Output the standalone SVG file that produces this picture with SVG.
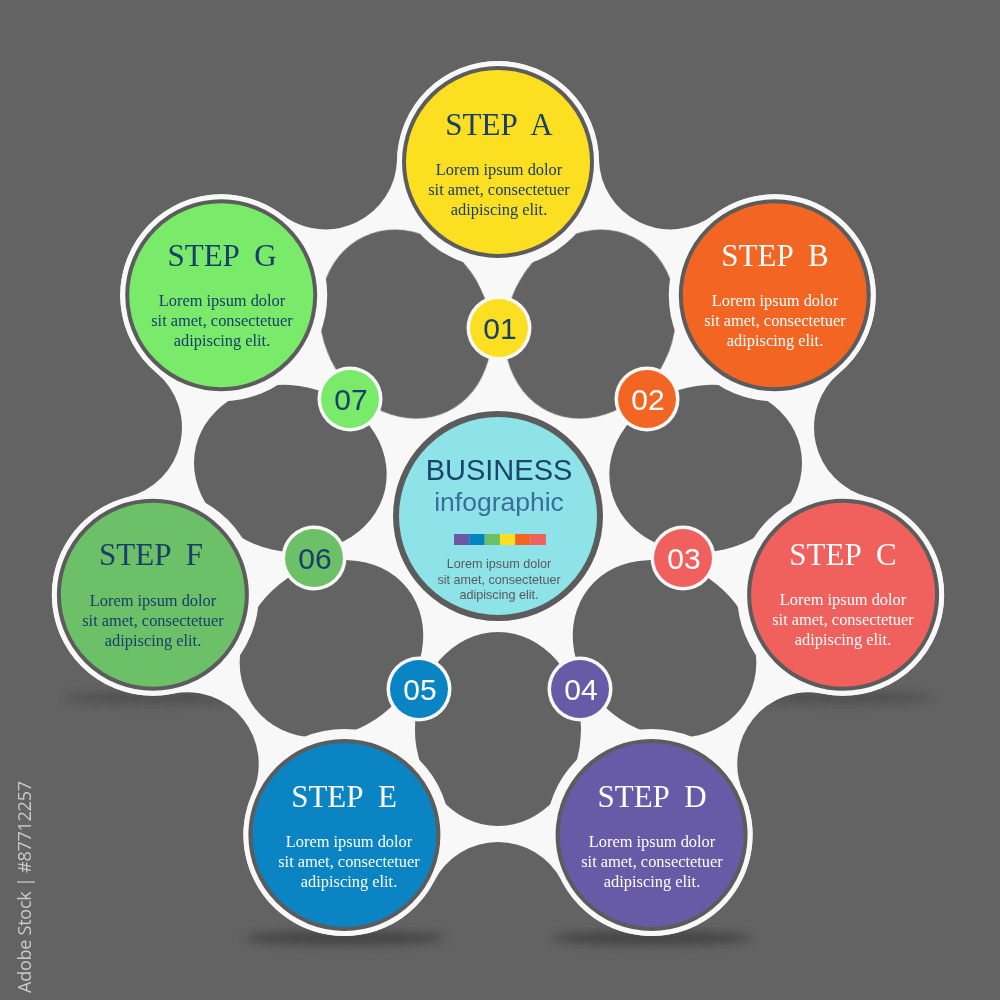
<svg xmlns="http://www.w3.org/2000/svg" width="1000" height="1000" viewBox="0 0 1000 1000">
  <defs>
    <style>
      .bg{fill:#636363}
      .hole{fill:#636363}
      .white{fill:#f8f8f8}
      .ring{stroke:#5c5c5c;stroke-width:4}
      .title{font-family:"Liberation Serif","Times New Roman",serif;font-size:31px;text-anchor:middle}
      .body{font-family:"Liberation Serif","Times New Roman",serif;font-size:16.4px;text-anchor:middle}
      .num{font-family:"Liberation Sans",Arial,sans-serif;font-size:30px;text-anchor:middle}
      .navy{fill:#183e6a}
      .wt{fill:#ffffff}
    </style>
    <filter id="blur" x="-50%" y="-200%" width="200%" height="500%">
      <feGaussianBlur stdDeviation="5"/>
    </filter>
    <mask id="holeMask" maskUnits="userSpaceOnUse" x="0" y="0" width="1000" height="1000">
      <rect x="0" y="0" width="1000" height="1000" fill="#fff"/>
      <circle cx="498" cy="516" r="111" fill="#000"/>
      <circle cx="498" cy="162" r="106" fill="#000"/>
      <circle cx="774.77" cy="295.3" r="106" fill="#000"/>
      <circle cx="843.12" cy="594.77" r="106" fill="#000"/>
      <circle cx="651.59" cy="834.94" r="106" fill="#000"/>
      <circle cx="344.41" cy="834.94" r="106" fill="#000"/>
      <circle cx="152.88" cy="594.77" r="106" fill="#000"/>
      <circle cx="221.23" cy="295.3" r="106" fill="#000"/>
    </mask>
  </defs>

  <rect class="bg" x="0" y="0" width="1000" height="1000"/>

  <g id="shadows" filter="url(#blur)" fill="#3c3c3c" opacity="0.8">
    <ellipse cx="345" cy="938" rx="100" ry="7"/>
    <ellipse cx="652" cy="938" rx="100" ry="7"/>
    <ellipse cx="153" cy="698" rx="90" ry="6" opacity="0.6"/>
    <ellipse cx="843" cy="698" rx="90" ry="6" opacity="0.6"/>
  </g>

  <g id="connectors">
    <path class="white" d="M397.06,159.53 A101,101 0 0 1 498,61 A101,101 0 0 1 598.94,159.53
      A71.6,71.6 0 0 0 713.77,214.82 A101,101 0 0 1 853.73,232.31 A101,101 0 0 1 839.63,372.67
      A71.6,71.6 0 0 0 867.99,496.91 A101,101 0 0 1 941.59,617.25 A101,101 0 0 1 823.09,693.74
      A71.6,71.6 0 0 0 743.61,793.38 A101,101 0 0 1 695.42,925.94 A101,101 0 0 1 561.72,880.96
      A71.6,71.6 0 0 0 434.28,880.96 A101,101 0 0 1 300.58,925.94 A101,101 0 0 1 252.39,793.38
      A71.6,71.6 0 0 0 172.91,693.74 A101,101 0 0 1 54.41,617.25 A101,101 0 0 1 128.01,496.91
      A71.6,71.6 0 0 0 156.37,372.67 A101,101 0 0 1 142.27,232.31 A101,101 0 0 1 282.23,214.82
      A71.6,71.6 0 0 0 397.06,159.53 Z"/>
    <g mask="url(#holeMask)">
      <ellipse class="hole" cx="0" cy="0" rx="97" ry="83" transform="translate(590.42,324.09) rotate(-64.286)"/>
      <ellipse class="hole" cx="0" cy="0" rx="97" ry="83" transform="translate(705.66,468.6) rotate(-12.857)"/>
      <ellipse class="hole" cx="0" cy="0" rx="97" ry="83" transform="translate(664.53,648.8) rotate(38.571)"/>
      <ellipse class="hole" cx="0" cy="0" rx="97" ry="83" transform="translate(498,729) rotate(90)"/>
      <ellipse class="hole" cx="0" cy="0" rx="97" ry="83" transform="translate(331.47,648.8) rotate(141.43)"/>
      <ellipse class="hole" cx="0" cy="0" rx="97" ry="83" transform="translate(290.34,468.6) rotate(192.86)"/>
      <ellipse class="hole" cx="0" cy="0" rx="97" ry="83" transform="translate(405.58,324.09) rotate(244.29)"/>
    </g>
  </g>

  <g id="center">
    <circle cx="498" cy="516" r="102" fill="#8de3e8" stroke="#5c5c5c" stroke-width="6"/>
    <text x="499" y="480" font-family="Liberation Sans, Arial, sans-serif" font-size="29" fill="#19456c" text-anchor="middle">BUSINESS</text>
    <text x="499" y="511" font-family="Liberation Sans, Arial, sans-serif" font-size="26.5" fill="#3b6c9b" text-anchor="middle">infographic</text>
    <rect x="454" y="534" width="15.4" height="11" fill="#6a5aa5"/>
    <rect x="469.3" y="534" width="15.4" height="11" fill="#0085c3"/>
    <rect x="484.6" y="534" width="15.4" height="11" fill="#6abf69"/>
    <rect x="499.9" y="534" width="15.4" height="11" fill="#fddf22"/>
    <rect x="515.2" y="534" width="15.4" height="11" fill="#f26522"/>
    <rect x="530.5" y="534" width="15.4" height="11" fill="#f0605d"/>
    <g font-family="Liberation Sans, Arial, sans-serif" font-size="12.6" fill="#5a5a5a" text-anchor="middle">
      <text x="499" y="568">Lorem ipsum dolor</text>
      <text x="499" y="583.5">sit amet, consectetuer</text>
      <text x="499" y="599">adipiscing elit.</text>
    </g>
  </g>

  <g id="step-a">
    <circle class="white" cx="498" cy="162" r="101"/>
    <circle class="ring" cx="498" cy="162" r="94" fill="#fddf22"/>
    <text class="title navy" x="499" y="135" xml:space="preserve">STEP  A</text>
    <text class="body navy" x="499" y="175">Lorem ipsum dolor</text>
    <text class="body navy" x="499" y="195">sit amet, consectetuer</text>
    <text class="body navy" x="499" y="215">adipiscing elit.</text>
  </g>
  <g id="step-b">
    <circle class="white" cx="774.77" cy="295.3" r="101"/>
    <circle class="ring" cx="774.77" cy="295.3" r="94" fill="#f26522"/>
    <text class="title wt" x="775" y="266" xml:space="preserve">STEP  B</text>
    <text class="body wt" x="775" y="306">Lorem ipsum dolor</text>
    <text class="body wt" x="775" y="326">sit amet, consectetuer</text>
    <text class="body wt" x="775" y="346">adipiscing elit.</text>
  </g>
  <g id="step-c">
    <circle class="white" cx="843.12" cy="594.77" r="101"/>
    <circle class="ring" cx="843.12" cy="594.77" r="94" fill="#f0605d"/>
    <text class="title wt" x="843" y="565" xml:space="preserve">STEP  C</text>
    <text class="body wt" x="843" y="605">Lorem ipsum dolor</text>
    <text class="body wt" x="843" y="625">sit amet, consectetuer</text>
    <text class="body wt" x="843" y="645">adipiscing elit.</text>
  </g>
  <g id="step-d">
    <circle class="white" cx="651.59" cy="834.94" r="101"/>
    <circle class="ring" cx="651.59" cy="834.94" r="94" fill="#675ba7"/>
    <text class="title wt" x="652" y="807" xml:space="preserve">STEP  D</text>
    <text class="body wt" x="652" y="847">Lorem ipsum dolor</text>
    <text class="body wt" x="652" y="867">sit amet, consectetuer</text>
    <text class="body wt" x="652" y="887">adipiscing elit.</text>
  </g>
  <g id="step-e">
    <circle class="white" cx="344.41" cy="834.94" r="101"/>
    <circle class="ring" cx="344.41" cy="834.94" r="94" fill="#0a84c2"/>
    <text class="title wt" x="344" y="807" xml:space="preserve">STEP  E</text>
    <text class="body wt" x="349" y="847">Lorem ipsum dolor</text>
    <text class="body wt" x="349" y="867">sit amet, consectetuer</text>
    <text class="body wt" x="349" y="887">adipiscing elit.</text>
  </g>
  <g id="step-f">
    <circle class="white" cx="152.88" cy="594.77" r="101"/>
    <circle class="ring" cx="152.88" cy="594.77" r="94" fill="#6cc068"/>
    <text class="title navy" x="151" y="565" xml:space="preserve">STEP  F</text>
    <text class="body navy" x="153" y="606">Lorem ipsum dolor</text>
    <text class="body navy" x="153" y="626">sit amet, consectetuer</text>
    <text class="body navy" x="153" y="646">adipiscing elit.</text>
  </g>
  <g id="step-g">
    <circle class="white" cx="221.23" cy="295.3" r="101"/>
    <circle class="ring" cx="221.23" cy="295.3" r="94" fill="#7aea6a"/>
    <text class="title navy" x="222" y="266" xml:space="preserve">STEP  G</text>
    <text class="body navy" x="222" y="306">Lorem ipsum dolor</text>
    <text class="body navy" x="222" y="326">sit amet, consectetuer</text>
    <text class="body navy" x="222" y="346">adipiscing elit.</text>
  </g>

  <g id="num-01">
    <circle class="white" cx="499" cy="328" r="32.5"/>
    <circle cx="499" cy="328" r="29" fill="#fddf22"/>
    <text class="num navy" x="500" y="339">01</text>
  </g>
  <g id="num-02">
    <circle class="white" cx="647" cy="399" r="32.5"/>
    <circle cx="647" cy="399" r="29" fill="#f26522"/>
    <text class="num wt" x="648" y="410">02</text>
  </g>
  <g id="num-03">
    <circle class="white" cx="683" cy="558" r="32.5"/>
    <circle cx="683" cy="558" r="29" fill="#f0605d"/>
    <text class="num wt" x="684" y="569">03</text>
  </g>
  <g id="num-04">
    <circle class="white" cx="580" cy="689" r="32.5"/>
    <circle cx="580" cy="689" r="29" fill="#675ba7"/>
    <text class="num wt" x="581" y="700">04</text>
  </g>
  <g id="num-05">
    <circle class="white" cx="419" cy="689" r="32.5"/>
    <circle cx="419" cy="689" r="29" fill="#0a84c2"/>
    <text class="num wt" x="420" y="700">05</text>
  </g>
  <g id="num-06">
    <circle class="white" cx="314" cy="558" r="32.5"/>
    <circle cx="314" cy="558" r="29" fill="#6cc068"/>
    <text class="num navy" x="315" y="569">06</text>
  </g>
  <g id="num-07">
    <circle class="white" cx="350" cy="399" r="32.5"/>
    <circle cx="350" cy="399" r="29" fill="#7aea6a"/>
    <text class="num navy" x="351" y="410">07</text>
  </g>

  <text transform="translate(31,993) rotate(-90)" font-family="Open Sans, Liberation Sans, sans-serif" font-size="18" fill="#c9c9c9" textLength="212">Adobe Stock | #87712257</text>
</svg>
